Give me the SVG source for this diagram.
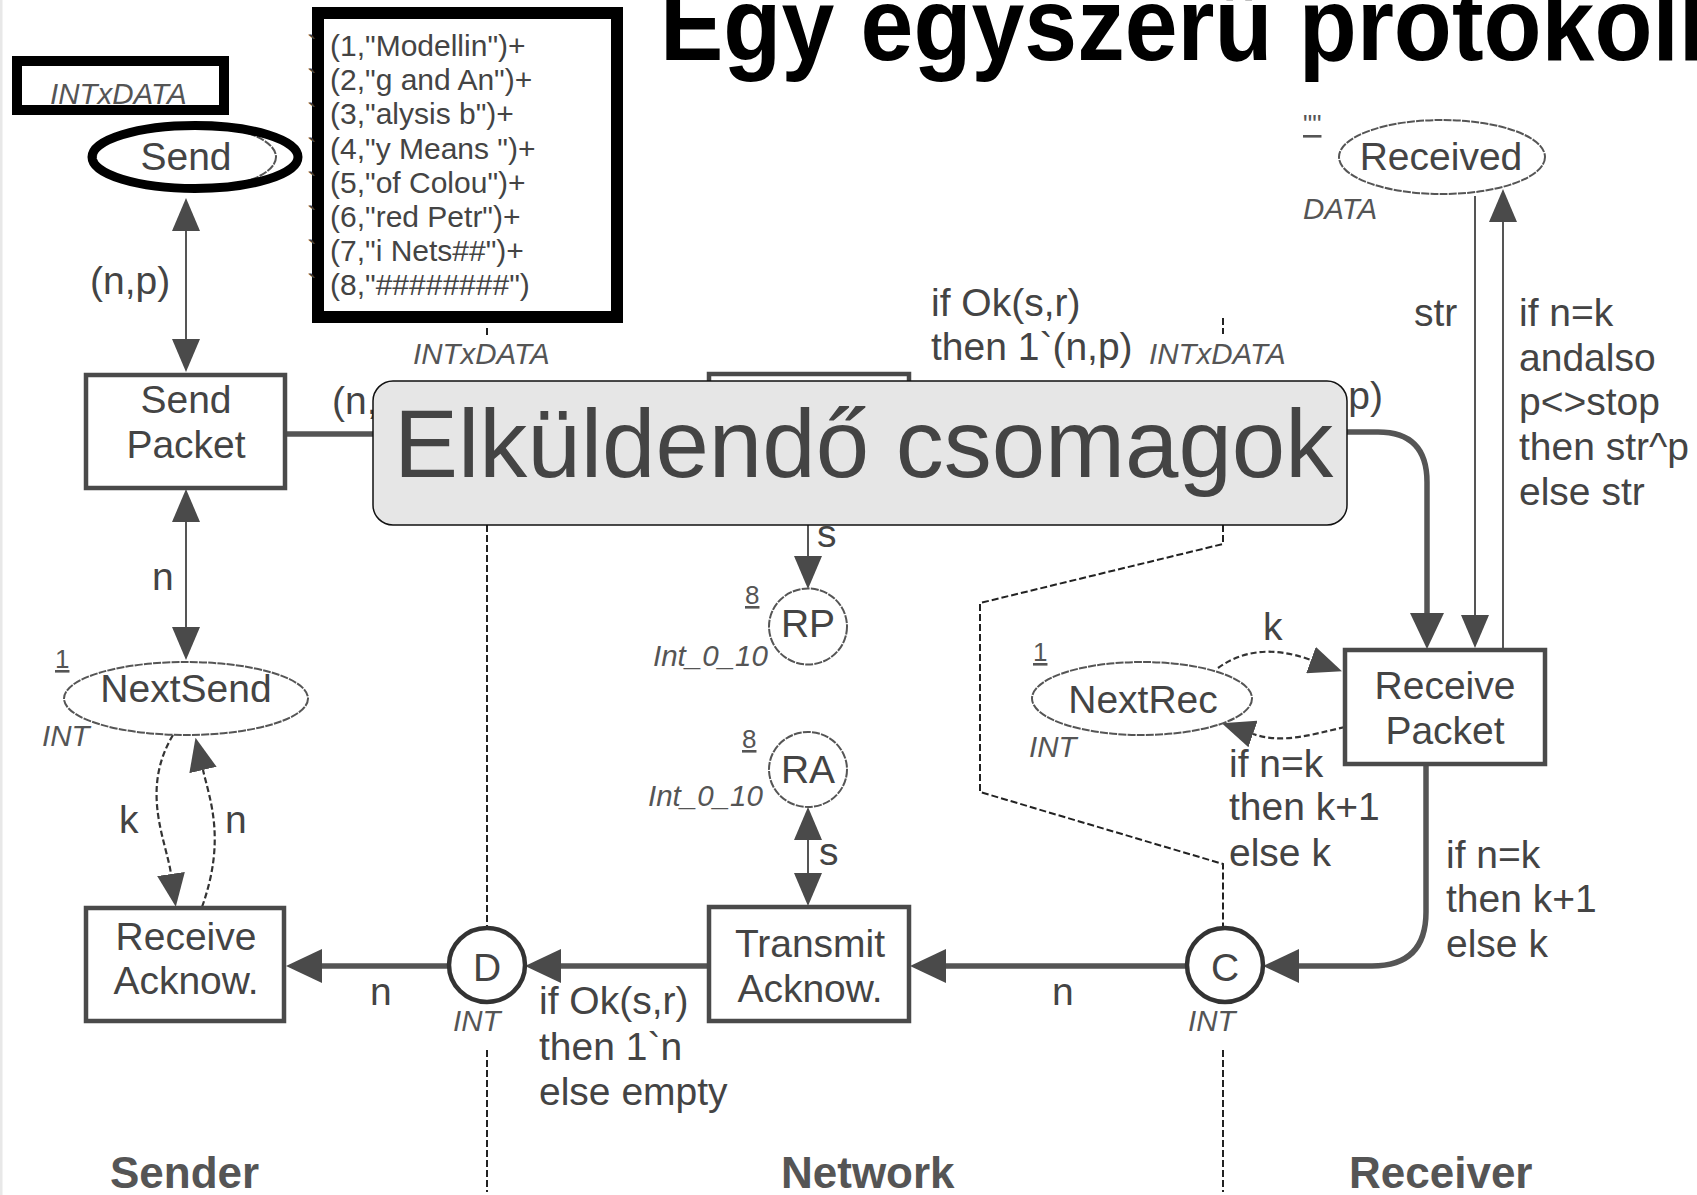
<svg xmlns="http://www.w3.org/2000/svg" width="1697" height="1195" viewBox="0 0 1697 1195">
  <style>
    .t { font-family: "Liberation Sans", Arial, Helvetica, sans-serif; fill: #444; }
    .lbl { font-size: 39px; }
    .sm { font-size: 29.5px; font-style: italic; fill: #555; }
    .cnt { font-size: 26px; text-decoration: underline; fill: #555; }
    .tok { font-size: 30px; fill: #444; }
    .reg { font-size: 44px; font-weight: bold; fill: #555; }
    .mid { text-anchor: middle; }
    .end { text-anchor: end; }
    .trans { fill: #fff; stroke: #4a4a4a; stroke-width: 4.5; }
    .place { fill: #fff; stroke: #555; stroke-width: 2; stroke-dasharray: 8 1.2; }
    .port { fill: #fff; stroke: #333; stroke-width: 4.5; }
    .thin { fill: none; stroke: #555; stroke-width: 2; }
    .thick { fill: none; stroke: #555; stroke-width: 5.5; }
    .dash { fill: none; stroke: #333; stroke-width: 2.2; stroke-dasharray: 6 3; }
    .bound { fill: none; stroke: #222; stroke-width: 2; stroke-dasharray: 7 3; }
    .hl { fill: none; stroke: #000; }
  </style>
  <defs>
    <marker id="ahL" markerUnits="userSpaceOnUse" markerWidth="36" markerHeight="34" viewBox="0 0 36 34" refX="0" refY="17" orient="auto-start-reverse">
      <path d="M0,0 L36,17 L0,34 z" fill="#4a4a4a"/>
    </marker>
    <marker id="ahS" markerUnits="userSpaceOnUse" markerWidth="33" markerHeight="28" viewBox="0 0 33 28" refX="0" refY="14" orient="auto-start-reverse">
      <path d="M0,0 L33,14 L0,28 z" fill="#4a4a4a"/>
    </marker>
  </defs>

  <rect width="1697" height="1195" fill="#fff"/>
  <rect x="0" y="0" width="2.5" height="1195" fill="#e8e8e8"/>

  <!-- title -->
  <text id="title" transform="translate(660,60) scale(1,1.1)" x="0" y="0" font-family="Liberation Sans, Arial, sans-serif" font-size="95" font-weight="bold" fill="#000">Egy egyszerű protokoll</text>

  <!-- connectors -->
  <g id="connectors">
    <!-- Send <-> Send Packet -->
    <path class="thin" d="M186,231 L186,339" marker-start="url(#ahS)" marker-end="url(#ahS)"/>
    <!-- Send Packet <-> NextSend -->
    <path class="thin" d="M186,522 L186,627" marker-start="url(#ahS)" marker-end="url(#ahS)"/>
    <!-- NextSend -> Receive Acknow. -->
    <path class="dash" d="M173,735 C140,790 166,840 171,874" marker-end="url(#ahS)"/>
    <!-- Receive Acknow. -> NextSend -->
    <path class="dash" d="M202,907 C226,840 210,800 203,770" marker-end="url(#ahS)"/>
    <!-- Send Packet -> Transmit Packet -->
    <path class="thick" d="M286,434 L700,434"/>
    <!-- Transmit Packet -> Receive Packet -->
    <path class="thick" d="M1300,432 L1378,432 Q1427,432 1427,482 L1427,613" marker-end="url(#ahL)"/>
    <!-- Transmit Packet -> RP -->
    <path class="thin" d="M808,490 L808,556" marker-end="url(#ahS)"/>
    <!-- RA <-> Transmit Acknow. -->
    <path class="thin" d="M808,840 L808,873" marker-start="url(#ahS)" marker-end="url(#ahS)"/>
    <!-- Transmit Acknow. -> D -->
    <path class="thick" d="M709,966 L561,966" marker-end="url(#ahL)"/>
    <!-- D -> Receive Acknow. -->
    <path class="thick" d="M449,966 L322,966" stroke="#444" stroke-width="6" marker-end="url(#ahL)"/>
    <!-- C -> Transmit Acknow. -->
    <path class="thick" d="M1187,966 L946,966" stroke="#5a5a5a" marker-end="url(#ahL)"/>
    <!-- Receive Packet -> C -->
    <path class="thick" d="M1426,764 L1426,912 Q1426,966 1372,966 L1299,966" marker-end="url(#ahL)"/>
    <!-- NextRec -> Receive Packet -->
    <path class="dash" d="M1218,668 C1240,652 1270,645 1311,660" marker-end="url(#ahS)"/>
    <!-- Receive Packet -> NextRec -->
    <path class="dash" d="M1345,727 C1310,735 1282,744 1253,734" marker-end="url(#ahS)"/>
    <!-- Received -> Receive Packet -->
    <path class="thin" d="M1475,196 L1475,615" marker-end="url(#ahS)"/>
    <!-- Receive Packet -> Received -->
    <path class="thin" d="M1503,650 L1503,222" marker-end="url(#ahS)"/>

    <!-- subnet boundaries -->
    <path class="bound" d="M487,328 L487,338"/>
    <path class="bound" d="M487,525 L487,928"/>
    <path class="bound" d="M487,1050 L487,1192"/>
    <path class="bound" d="M1223,318 L1223,334"/>
    <path class="bound" d="M1223,525 L1223,544 L980,603 L980,792 L1223,864 L1223,928"/>
    <path class="bound" d="M1223,1050 L1223,1192"/>
  </g>

  <!-- arc inscriptions -->
  <g id="arc-labels" class="t lbl">
    <text x="90" y="294">(n,p)</text>
    <text x="152" y="590">n</text>
    <text x="119" y="833">k</text>
    <text x="225" y="833">n</text>
    <text x="332" y="414">(n,</text>
    <text x="370" y="1005">n</text>
    <text x="539" y="1014">if Ok(s,r)</text>
    <text x="539" y="1060">then 1`n</text>
    <text x="539" y="1105">else empty</text>
    <text x="1052" y="1005">n</text>
    <text x="817" y="547">s</text>
    <text x="819" y="865">s</text>
    <text x="931" y="316">if Ok(s,r)</text>
    <text x="931" y="360">then 1`(n,p)</text>
    <text class="end" x="1383" y="409">p)</text>
    <text x="1263" y="640">k</text>
    <text x="1229" y="777">if n=k</text>
    <text x="1229" y="820">then k+1</text>
    <text x="1229" y="866">else k</text>
    <text x="1446" y="868">if n=k</text>
    <text x="1446" y="912">then k+1</text>
    <text x="1446" y="957">else k</text>
    <text x="1414" y="326">str</text>
    <text x="1519" y="326">if n=k</text>
    <text x="1519" y="371">andalso</text>
    <text x="1519" y="415">p&lt;&gt;stop</text>
    <text x="1519" y="460">then str^p</text>
    <text x="1519" y="505">else str</text>
  </g>
  <g id="colour-sets" class="t sm">
    <text x="413" y="364">INTxDATA</text>
    <text x="1149" y="364">INTxDATA</text>
  </g>

  <!-- Sender -->
  <g id="place-send">
    <ellipse cx="186" cy="157" rx="90" ry="33" class="place"/>
    <text class="t lbl mid" x="186" y="170">Send</text>
    <ellipse cx="195" cy="157" rx="103" ry="31.5" class="hl" stroke-width="9"/>
  </g>
  <g id="send-type">
    <text class="t sm" x="50" y="104">INTxDATA</text>
    <rect x="17" y="61" width="207" height="49" class="hl" stroke-width="10"/>
  </g>
  <g id="send-marking">
    <g class="t tok">
      <text x="330" y="56">(1,"Modellin")+</text>
      <text x="330" y="90">(2,"g and An")+</text>
      <text x="330" y="124">(3,"alysis b")+</text>
      <text x="330" y="159">(4,"y Means ")+</text>
      <text x="330" y="193">(5,"of Colou")+</text>
      <text x="330" y="227">(6,"red Petr")+</text>
      <text x="330" y="261">(7,"i Nets##")+</text>
      <text x="330" y="295">(8,"########")</text>
    </g>
    <rect x="318" y="13" width="299" height="304" class="hl" stroke-width="12"/>
    <g class="t tok">
      <text x="307" y="56">`</text>
      <text x="307" y="90">`</text>
      <text x="307" y="124">`</text>
      <text x="307" y="159">`</text>
      <text x="307" y="193">`</text>
      <text x="307" y="227">`</text>
      <text x="307" y="261">`</text>
      <text x="307" y="295">`</text>
    </g>
  </g>
  <g id="trans-send-packet">
    <rect x="86" y="375" width="199" height="113" class="trans"/>
    <text class="t lbl mid" x="186" y="413">Send</text>
    <text class="t lbl mid" x="186" y="458">Packet</text>
  </g>
  <g id="place-nextsend">
    <ellipse cx="186" cy="698.5" rx="122" ry="36.5" class="place"/>
    <text class="t lbl mid" x="186" y="702">NextSend</text>
    <text class="t cnt" x="55" y="668">1</text>
    <text class="t sm" x="42" y="746">INT</text>
  </g>
  <g id="trans-receive-acknow">
    <rect x="86" y="908" width="198" height="113" class="trans"/>
    <text class="t lbl mid" x="186" y="950">Receive</text>
    <text class="t lbl mid" x="186" y="994">Acknow.</text>
  </g>

  <!-- Network -->
  <g id="place-d">
    <ellipse cx="487" cy="965" rx="38" ry="37" class="port"/>
    <text class="t lbl mid" x="487" y="981">D</text>
    <text class="t sm" x="453" y="1031">INT</text>
  </g>
  <g id="trans-transmit-packet">
    <rect x="709" y="374" width="200" height="114" class="trans"/>
  </g>
  <g id="place-rp">
    <ellipse cx="808" cy="626.5" rx="39" ry="38" class="place"/>
    <text class="t lbl mid" x="808" y="637">RP</text>
    <text class="t cnt" x="745" y="604">8</text>
    <text class="t sm" x="653" y="666">Int_0_10</text>
  </g>
  <g id="place-ra">
    <ellipse cx="808" cy="769.5" rx="39" ry="37.5" class="place"/>
    <text class="t lbl mid" x="808" y="783">RA</text>
    <text class="t cnt" x="742" y="748">8</text>
    <text class="t sm" x="648" y="806">Int_0_10</text>
  </g>
  <g id="trans-transmit-acknow">
    <rect x="709" y="907" width="200" height="114" class="trans"/>
    <text class="t lbl mid" x="810" y="957">Transmit</text>
    <text class="t lbl mid" x="810" y="1002">Acknow.</text>
  </g>

  <!-- Receiver -->
  <g id="place-c">
    <ellipse cx="1225" cy="965" rx="38" ry="37" class="port"/>
    <text class="t lbl mid" x="1225" y="981">C</text>
    <text class="t sm" x="1188" y="1031">INT</text>
  </g>
  <g id="place-received">
    <ellipse cx="1442" cy="157" rx="103" ry="37" class="place"/>
    <text class="t lbl mid" x="1441" y="170">Received</text>
    <text class="t cnt" x="1303" y="133">""</text>
    <text class="t sm" x="1303" y="219">DATA</text>
  </g>
  <g id="trans-receive-packet">
    <rect x="1345" y="650" width="200" height="114" class="trans"/>
    <text class="t lbl mid" x="1445" y="699">Receive</text>
    <text class="t lbl mid" x="1445" y="744">Packet</text>
  </g>
  <g id="place-nextrec">
    <ellipse cx="1142" cy="698.5" rx="110" ry="36.5" class="place"/>
    <text class="t lbl mid" x="1143" y="713">NextRec</text>
    <text class="t cnt" x="1033" y="661">1</text>
    <text class="t sm" x="1029" y="757">INT</text>
  </g>

  <!-- subnet names -->
  <g id="regions" class="t reg">
    <text x="110" y="1188">Sender</text>
    <text x="781" y="1188">Network</text>
    <text x="1349" y="1188">Receiver</text>
  </g>

  <!-- callout -->
  <g id="callout">
    <rect x="373" y="381" width="974" height="144" rx="20" fill="#e6e6e6" stroke="#111" stroke-width="1.5"/>
    <text x="394" y="477" font-family="Liberation Sans, Arial, sans-serif" font-size="96" fill="#444">Elküldendő csomagok</text>
  </g>
</svg>
